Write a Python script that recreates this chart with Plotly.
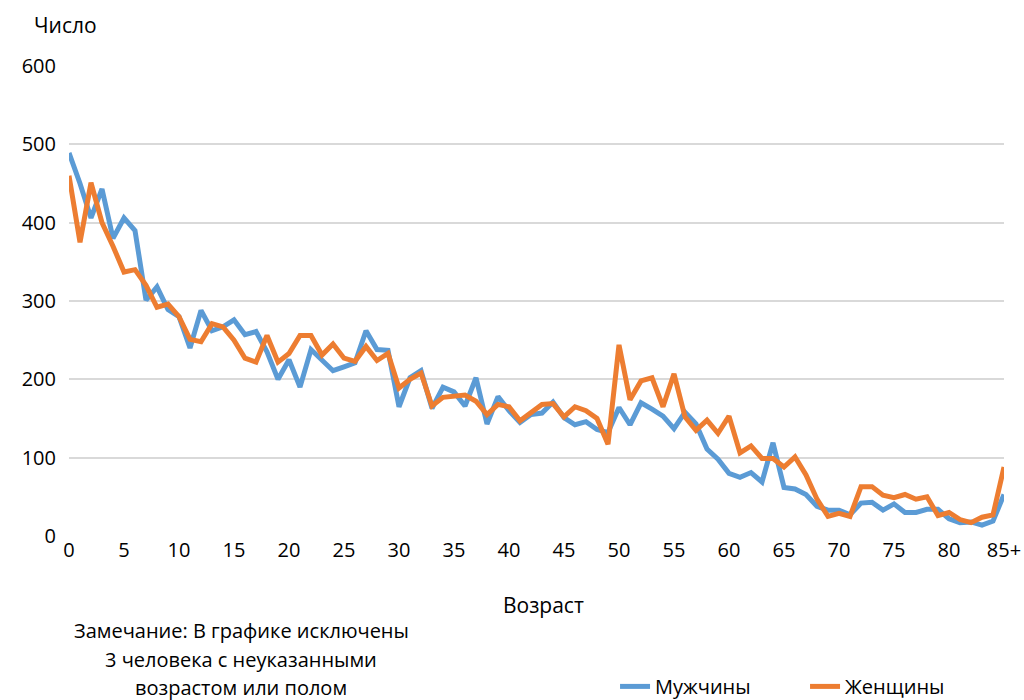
import plotly.graph_objects as go

ages = list(range(86))
tick_vals = [0, 5, 10, 15, 20, 25, 30, 35, 40, 45, 50, 55, 60, 65, 70, 75, 80, 85]
tick_text = ["0", "5", "10", "15", "20", "25", "30", "35", "40", "45", "50", "55", "60", "65", "70", "75", "80", "85+"]

men = [489, 450, 406, 443, 380, 406, 390, 301, 318, 289,
       280, 240, 288, 262, 267, 276, 257, 261, 235, 200,
       225, 190, 238, 225, 211, 216, 221, 262, 238, 237,
       165, 202, 211, 163, 190, 184, 166, 202, 143, 178,
       160, 145, 155, 157, 171, 151, 142, 146, 136, 132,
       164, 142, 170, 162, 153, 137, 158, 143, 111, 98,
       80, 75, 81, 69, 119, 62, 60, 53, 38, 33,
       33, 27, 42, 43, 33, 41, 30, 30, 34, 34,
       22, 17, 18, 14, 19, 53]

women = [460, 375, 451, 400, 370, 337, 340, 320, 292, 296,
         280, 251, 248, 271, 267, 250, 227, 222, 256, 222,
         233, 256, 256, 231, 245, 227, 223, 242, 224, 233,
         189, 200, 208, 166, 177, 178, 180, 172, 155, 168,
         165, 147, 157, 168, 169, 152, 165, 160, 150, 117,
         244, 174, 198, 202, 165, 207, 152, 135, 148, 131,
         153, 106, 115, 99, 99, 88, 101, 78, 47, 25,
         29, 25, 63, 63, 52, 49, 53, 47, 50, 26,
         30, 21, 17, 24, 27, 88]

note_lines = ["Замечание: В графике исключены", "3 человека с неуказанными", "возрастом или полом"]

font_family = "Open Sans, Noto Sans, sans-serif"

fig = go.Figure()
fig.add_trace(go.Scatter(x=ages, y=men, mode="lines", name="Мужчины",
                         line=dict(color="#5B9BD5", width=5)))
fig.add_trace(go.Scatter(x=ages, y=women, mode="lines", name="Женщины",
                         line=dict(color="#ED7D31", width=5)))

annotations = [
    dict(text="Число", xref="paper", yref="paper", x=-0.04, y=1.087,
         xanchor="left", yanchor="middle", showarrow=False, font=dict(size=21)),
    dict(text="Возраст", xref="paper", yref="paper", x=0.507, y=-0.147,
         xanchor="center", yanchor="middle", showarrow=False, font=dict(size=21)),
]
for i, line in enumerate(note_lines):
    annotations.append(dict(text=line, xref="paper", yref="paper", x=0.184,
                            y=-0.202 - 0.0605 * i, xanchor="center", yanchor="middle",
                            showarrow=False, font=dict(size=20)))

fig.update_layout(
    width=1024, height=700,
    margin=dict(l=69, r=20, t=66, b=164, autoexpand=False),
    paper_bgcolor="white", plot_bgcolor="white",
    font=dict(family=font_family, size=20, color="#000000"),
    showlegend=True,
    legend=dict(orientation="h", x=0.584, xanchor="left", y=-0.320, yanchor="middle",
                font=dict(size=20), entrywidth=145, entrywidthmode="pixels",
                traceorder="normal"),
    xaxis=dict(range=[0, 85], tickmode="array", tickvals=tick_vals, ticktext=tick_text,
               showgrid=False, zeroline=False, showline=False, ticks="",
               tickfont=dict(size=20), automargin=False),
    yaxis=dict(range=[0, 600], tickvals=[0, 100, 200, 300, 400, 500, 600],
               showgrid=True, gridcolor="#D9D9D9", gridwidth=1.5, zeroline=False,
               showline=False, ticks="", tickfont=dict(size=20), ticklabelstandoff=12,
               automargin=False),
    annotations=annotations,
)

# remove the default 8px page margin so the 1024x700 figure fits the window exactly
fig.write_html("out.html", config={"displayModeBar": False},
               post_script="document.body.style.margin='0';document.body.style.overflow='hidden';")
